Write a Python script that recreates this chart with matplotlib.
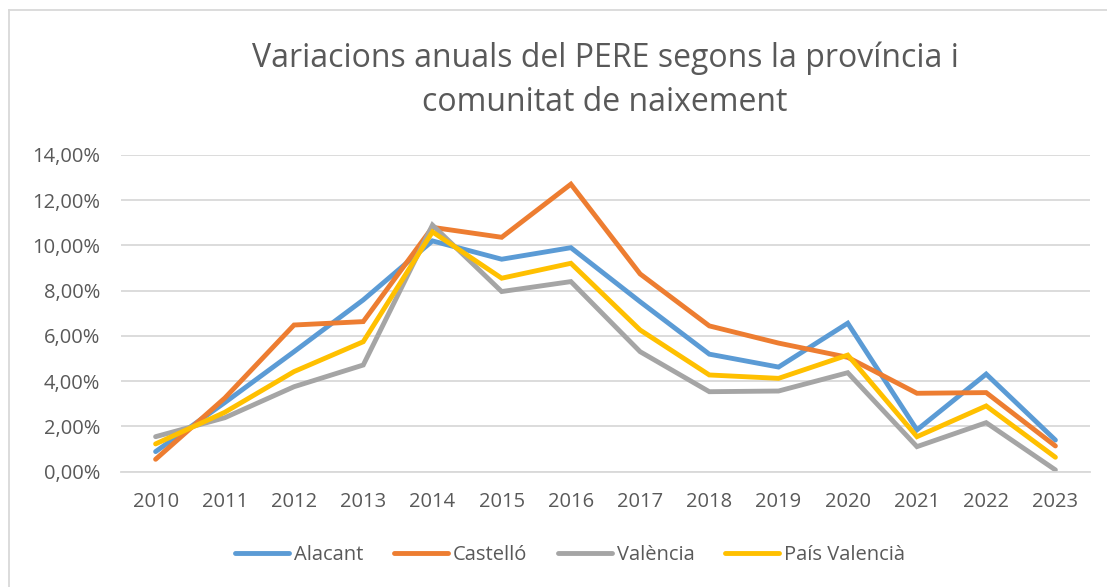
import matplotlib
matplotlib.use("Agg")
import matplotlib.pyplot as plt
from matplotlib.ticker import FuncFormatter, MultipleLocator
from matplotlib.lines import Line2D

years = [2010, 2011, 2012, 2013, 2014, 2015, 2016, 2017, 2018, 2019, 2020, 2021, 2022, 2023]
alacant = [0.88, 3.05, 5.30, 7.59, 10.20, 9.39, 9.90, 7.51, 5.19, 4.62, 6.56, 1.84, 4.31, 1.39]
castello = [0.54, 3.25, 6.48, 6.63, 10.80, 10.36, 12.71, 8.74, 6.44, 5.68, 5.05, 3.46, 3.49, 1.13]
valencia = [1.54, 2.38, 3.75, 4.71, 10.90, 7.96, 8.40, 5.30, 3.53, 3.56, 4.37, 1.10, 2.16, 0.07]
pais = [1.22, 2.62, 4.42, 5.74, 10.60, 8.55, 9.21, 6.26, 4.27, 4.12, 5.15, 1.54, 2.90, 0.63]
series_names = ["Alacant", "Castelló", "València", "País Valencià"]
colors = ["#5B9BD5", "#ED7D31", "#A5A5A5", "#FFC000"]
title = "Variacions anuals del PERE segons la província i\ncomunitat de naixement"

plt.rcParams['font.family'] = ['Open Sans', 'DejaVu Sans']

fig = plt.figure(figsize=(11.07, 5.87), dpi=100)
ax = fig.add_axes([121/1107, 1 - 471.5/587, (1090-121)/1107, (471.5-155)/587])

xs = list(range(len(years)))
for vals, name, c in zip([alacant, castello, valencia, pais], series_names, colors):
    ax.plot(xs, [v/100 for v in vals], color=c, lw=3.5, solid_capstyle='round',
            solid_joinstyle='miter', label=name)

ax.set_xlim(-0.5, len(years) - 0.5)
ax.set_ylim(0, 0.14)
ax.yaxis.set_major_locator(MultipleLocator(0.02))
ax.yaxis.set_major_formatter(FuncFormatter(lambda v, p: f"{v*100:.2f}%".replace('.', ',')))
ax.set_xticks(xs)
ax.set_xticklabels([str(y) for y in years])
ax.grid(axis='y', color='#D9D9D9', lw=1.3)
ax.set_axisbelow(True)
for s in ['top', 'right', 'left']:
    ax.spines[s].set_visible(False)
ax.spines['bottom'].set_color('#D9D9D9')
ax.spines['bottom'].set_linewidth(1.3)
ax.tick_params(axis='both', length=0, labelsize=14.5, labelcolor='#595959')
ax.tick_params(axis='y', pad=15)
ax.tick_params(axis='x', pad=15)

fig.text(0.5465, 1 - 80/587, title, ha='center', va='center', fontsize=23,
         color='#595959', linespacing=1.45)

handles = [Line2D([0], [0], color=c, lw=3.5, solid_capstyle='round') for c in colors]
leg = fig.legend(handles, series_names, loc='center', bbox_to_anchor=(570/1107, 1 - 555/587),
                 ncol=4, frameon=False, fontsize=14.5, handlelength=2.7, handletextpad=0.25,
                 columnspacing=1.5)
for t in leg.get_texts():
    t.set_color('#595959')

# chart border (left and top visible)
fig.add_artist(Line2D([9/1107, 9/1107], [0, 1 - 10/587], transform=fig.transFigure,
                      color='#D9D9D9', lw=1.3))
fig.add_artist(Line2D([9/1107, 1], [1 - 10/587, 1 - 10/587], transform=fig.transFigure,
                      color='#D9D9D9', lw=1.3))

fig.savefig("out.png", dpi=100)
